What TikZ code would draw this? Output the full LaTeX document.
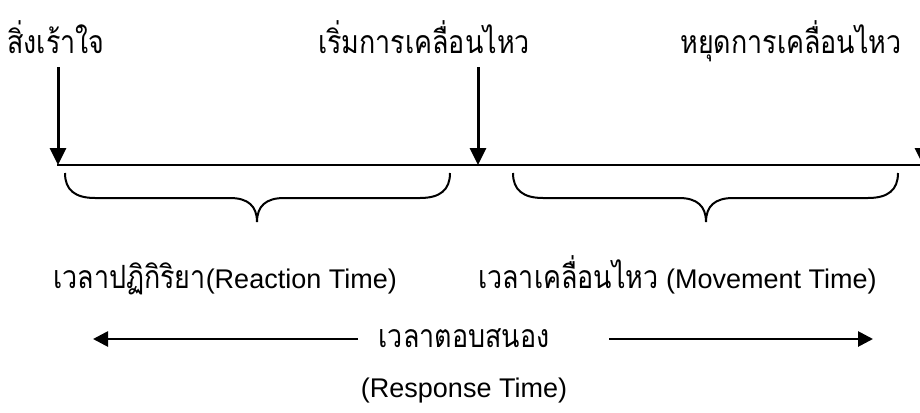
\documentclass[tikz,border=0pt]{standalone}
\usepackage{fontspec}
\setmainfont{Liberation Sans}
\newfontfamily\thai[Script=Thai,FakeStretch=0.84]{Loma}
\usetikzlibrary{arrows.meta}
\newcommand{\thtxt}[1]{{\thai\fontsize{32}{36}\selectfont #1}}
\begin{document}
\begin{tikzpicture}[x=1pt,y=-1pt,
  txt/.style={inner sep=0pt, font=\fontsize{27}{32}\selectfont},
  marker/.style={line width=3pt, -{Triangle[length=17pt,width=16pt]}},
  span/.style={line width=2.7pt, -{Triangle[length=15pt,width=15pt]}},
  brace/.style={line width=2pt},
  axis/.style={line width=2.2pt}]
\clip (0,0) rectangle (920,412);
\useasboundingbox (0,0) rectangle (920,412);

% labels
\node[txt, anchor=base] (stim) at (56,53) {\thtxt{สิ่งเร้าใจ}};
\node[txt, anchor=base] (start) at (424,53) {\thtxt{เริ่มการเคลื่อนไหว}};
\node[txt, anchor=base] (stop) at (791,53) {\thtxt{หยุดการเคลื่อนไหว}};
\node[txt, anchor=base east] (rt) at (397,288) {\thtxt{เวลาปฏิกิริยา}(Reaction Time)};
\node[txt, anchor=base west] (mt) at (478,288) {\thtxt{เวลาเคลื่อนไหว} (Movement Time)};
\node[txt, anchor=base] (resp) at (464,347) {\thtxt{เวลาตอบสนอง}};
\node[txt, anchor=base] (respen) at (464,397) {(Response Time)};

% coordinates
\coordinate (a1s) at (58,67);  \coordinate (a1e) at (58,165);
\coordinate (a2s) at (478,67); \coordinate (a2e) at (478,165);
\coordinate (a3s) at (923,67); \coordinate (a3e) at (923,165);
\coordinate (t0) at (57,165);  \coordinate (t1) at (925,165);
\coordinate (l0) at (358,339); \coordinate (l1) at (93,339);
\coordinate (r0) at (609,339); \coordinate (r1) at (873,339);

\draw[axis] (t0) -- (t1);
\draw[marker] (a1s) -- (a1e);
\draw[marker] (a2s) -- (a2e);
\draw[marker] (a3s) -- (a3e);
\draw[span] (l0) -- (l1);
\draw[span] (r0) -- (r1);

% braces
\draw[brace] (65,173) .. controls (65,190) and (75,198) .. (95,198) -- (230,198)
  .. controls (248,198) and (257,206) .. (257,222)
  .. controls (257,206) and (266,198) .. (284,198) -- (420,198)
  .. controls (440,198) and (450,190) .. (450,173);
\draw[brace] (513,173) .. controls (513,190) and (523,198) .. (543,198) -- (679,198)
  .. controls (697,198) and (706,206) .. (706,222)
  .. controls (706,206) and (715,198) .. (733,198) -- (868,198)
  .. controls (888,198) and (898,190) .. (898,173);
\end{tikzpicture}
\end{document}
